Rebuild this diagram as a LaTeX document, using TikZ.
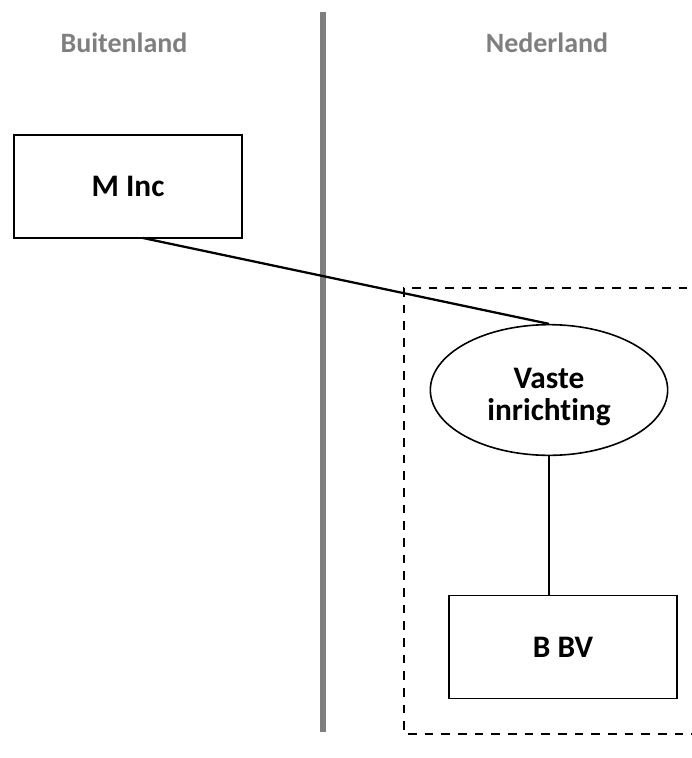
\documentclass[tikz,border=0pt]{standalone}
\usepackage{fontspec}
\setmainfont{Carlito}[Ligatures=NoCommon]
\usetikzlibrary{shapes.geometric}
\definecolor{divider}{HTML}{7F7F7F}
\tikzset{
  entity/.style={draw=black, line width=1.2pt, minimum width=171pt, minimum height=77pt,
    font=\fontsize{23.5}{27}\selectfont\bfseries, inner sep=0pt},
  branch/.style={draw=black, line width=1.2pt, ellipse, minimum width=178pt, minimum height=98pt,
    inner sep=0pt},
  branchtext/.style={font=\fontsize{23.5}{24.5}\selectfont\bfseries, align=center, inner sep=0pt},
  region/.style={text=divider, font=\fontsize{21}{25}\selectfont\bfseries},
  link/.style={draw=black, line width=1.7pt},
  pe/.style={draw=black, line width=2.1pt, dash pattern=on 6.5pt off 6pt}
}
\begin{document}
\begin{tikzpicture}[x=0.75pt, y=-0.75pt]
  \useasboundingbox (0,0) rectangle (692,758);
  \clip (0,0) rectangle (692,758);
  % country divider
  \draw[divider, line width=4.5pt] (323,12) -- (323,732);
  \node[region] (buiten) at (124,43) {Buitenland};
  \node[region] (ned) at (547,43) {Nederland};
  % permanent establishment boundary
  \draw[pe] (704,288) -- (404,288) -- (404,734) -- (704,734);
  % entities
  \node[entity] (minc) at (128,186.5) {\raisebox{-2pt}{M Inc}};
  \node[branch] (vi) at (549,390) {};
  \node[branchtext] (vitext) at (549,397) {Vaste\\inrichting};
  \node[entity] (bbv) at (563,647) {\raisebox{-1.5pt}{B BV}};
  % connections
  \coordinate (mincb) at (143,238);
  \draw[link] (mincb) -- (vi.north);
  \draw[link] (vi.south) -- (vi.south |- bbv.north);
\end{tikzpicture}
\end{document}
